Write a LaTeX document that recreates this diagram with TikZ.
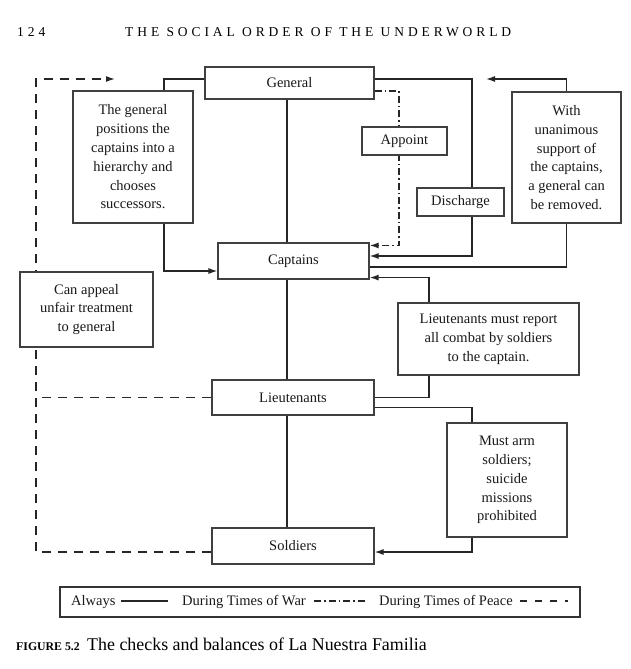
\documentclass[tikz,border=0pt]{standalone}
\usepackage{fontspec}
\setmainfont{Liberation Serif}
\newfontfamily\headfont[LetterSpace=29]{Liberation Serif}
\usetikzlibrary{arrows.meta,backgrounds}
\newcommand\bodyfont{\fontsize{14.5}{18.8}\selectfont}
\begin{document}
\begin{tikzpicture}[x=1pt,y=-1pt,
  box/.style={draw=black!75, line width=1.1pt, fill=white, inner sep=0pt, align=center, font=\bodyfont, text=black!90},
  conn/.style={line width=1.4pt, draw=black!85},
  arr/.style={-{Latex[length=9pt,width=6pt]}},
  war/.style={dash pattern=on 7pt off 3pt on 1.5pt off 3pt},
  peace/.style={dash pattern=on 9pt off 7pt},
  lg/.style={font=\bodyfont, inner sep=0pt, anchor=base west, text=black!90}]
\useasboundingbox (0,0) rectangle (631,669);
% header and caption
\node[anchor=base west, inner sep=0pt, font=\headfont\fontsize{13.5}{16}\selectfont] (pg) at (17,37) {124};
\node[anchor=base west, inner sep=0pt, font=\headfont\fontsize{13.5}{16}\selectfont] (hd) at (125,37) {THE SOCIAL ORDER OF THE UNDERWORLD};
\node[anchor=base west, inner sep=0pt, font=\bfseries\fontsize{11.8}{14}\selectfont] (fg) at (16,650) {FIGURE 5.2};
\node[anchor=base west, inner sep=0pt, font=\fontsize{17.9}{20}\selectfont] (cp) at (87,650) {The checks and balances of La Nuestra Familia};
% boxes
\node[box, minimum width=169, minimum height=32] (gen) at (289.5,83) {General};
\node[box, minimum width=120, minimum height=132] (gt) at (133,157) {The general\\positions the\\captains into a\\hierarchy and\\chooses\\successors.};
\node[box, minimum width=151, minimum height=36] (cap) at (293.5,261) {Captains};
\node[box, minimum width=85, minimum height=28] (app) at (404.5,141) {Appoint};
\node[box, minimum width=87, minimum height=28] (dis) at (460.5,202) {Discharge};
\node[box, minimum width=109, minimum height=131] (un) at (566.5,157.5) {With\\unanimous\\support of\\the captains,\\a general can\\be removed.};
\node[box, minimum width=133, minimum height=75] (ca) at (86.5,309.5) {Can appeal\\unfair treatment\\to general};
\node[box, minimum width=181, minimum height=72] (rep) at (488.5,339) {Lieutenants must report\\all combat by soldiers\\to the captain.};
\node[box, minimum width=162, minimum height=35] (lt) at (293,397.5) {Lieutenants};
\node[box, minimum width=120, minimum height=114] (ma) at (507,480) {Must arm\\soldiers;\\suicide\\missions\\prohibited};
\node[box, minimum width=162, minimum height=36] (sol) at (293,546) {Soldiers};
% helper coordinates
\coordinate (vx) at (287,0);
\coordinate (c164) at (164,0);
\coordinate (c36) at (36,0);
\coordinate (c399) at (399,0);
\coordinate (c472) at (472,0);
\coordinate (c429) at (429,0);
\coordinate (ya) at ([yshift=-3]cap.north east);
\coordinate (yd) at ([yshift=5]cap.east);
\coordinate (tipU) at (486,79);
\coordinate (tipP) at (115,79);
\begin{scope}[on background layer]
\draw[conn] (gen.south -| vx) -- (cap.north -| vx);
\draw[conn] (cap.south -| vx) -- (lt.north -| vx);
\draw[conn] (lt.south -| vx) -- (sol.north -| vx);
\draw[conn] ([yshift=4]gen.west) -| (gt.north -| c164);
\draw[conn,arr] (gt.south -| c164) |- ([yshift=-10]cap.west);
\draw[conn,war,arr] ([yshift=-8]gen.east) -| (c399 |- ya) -- (ya);
\draw[conn,arr] ([yshift=4]gen.east) -| (c472 |- yd) -- (yd);
\draw[conn,arr] (un.north) |- (tipU);
\draw[conn] (un.south) |- ([yshift=-6]cap.east);
\draw[conn,arr] (rep.north -| c429) |- ([yshift=2]cap.south east);
\draw[conn] (rep.south -| c429) |- (lt.east);
\draw[conn] ([yshift=-10]lt.east) -| (ma.north -| c472);
\draw[conn,arr] (ma.south -| c472) |- ([yshift=-6]sol.east);
\draw[conn,peace,arr] ([yshift=-6]sol.west) -| (c36 |- tipP) -- (tipP);
\draw[conn,peace] (lt.west) -- (lt.west -| c36);
\end{scope}
% legend
\node[draw=black!80, line width=1.1pt, inner sep=0pt, minimum width=520, minimum height=30] (leg) at (320,602) {};
\node[lg] (lgA) at (71,605) {Always};
\node[lg] (lgW) at (182,605) {During Times of War};
\node[lg] (lgP) at (379,605) {During Times of Peace};
\draw[conn, line width=1.2pt] (121,601) -- (168,601);
\draw[conn, line width=1.2pt, war] (314,601) -- (365,601);
\draw[conn, line width=1.2pt, dash pattern=on 7pt off 8pt] (520,601) -- (568,601);
\end{tikzpicture}
\end{document}
